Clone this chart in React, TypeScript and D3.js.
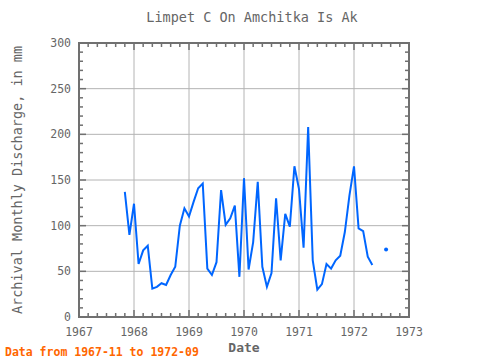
import * as d3 from "d3";
import { useEffect, useRef } from "react";

// monthly discharge, mm — starting 1967-11, null = missing
const START = [1967, 11];
const VALUES: (number | null)[] = [
  137, 90, 124, 58, 73, 78, 31, 33, 37, 35, 46, 55, // 1967-11 .. 1968-10
  100, 119, 110, 126, 141, 146, 53, 46, 60, 139, 101, 108, // 1968-11 .. 1969-10
  122, 44, 152, 52, 82, 148, 55, 33, 48, 130, 62, 113, // 1969-11 .. 1970-10
  99, 165, 140, 76, 208, 62, 30, 36, 58, 53, 62, 67, // 1970-11 .. 1971-10
  93, 133, 165, 97, 94, 66, 57, null, null, 74, null, // 1971-11 .. 1972-09
];
const X_TICKS = [1967, 1968, 1969, 1970, 1971, 1972, 1973];
const Y_TICKS = [0, 50, 100, 150, 200, 250, 300];

const W = 480;
const H = 360;
const M = { left: 79, right: 71, top: 43, bottom: 43 };
const FONT = "'DejaVu Sans Mono', monospace";
const FG = "#666666";
const FRAME = "#707070";
const GRID = "#b4b4b4";
const LINE = "#0066ff";

interface Pt {
  t: number;
  v: number | null;
}

export default function App() {
  const ref = useRef<SVGSVGElement>(null);

  useEffect(() => {
    if (!ref.current) return;
    const svg = d3.select(ref.current);
    svg.selectAll("*").remove();

    const pts: Pt[] = VALUES.map((v, i) => ({
      t: START[0] + (START[1] - 1 + i) / 12,
      v,
    }));

    const x = d3.scaleLinear().domain([1967, 1973]).range([M.left, W - M.right]);
    const y = d3.scaleLinear().domain([0, 300]).range([H - M.bottom, M.top]);
    const [x0, x1] = x.range();
    const [y0, y1] = y.range();

    // grid
    const g = svg.append("g");
    g.selectAll("line.gx")
      .data(X_TICKS.slice(1, -1))
      .join("line")
      .attr("x1", (d) => x(d))
      .attr("x2", (d) => x(d))
      .attr("y1", y0)
      .attr("y2", y1)
      .attr("stroke", GRID)
      .attr("stroke-width", 1);
    g.selectAll("line.gy")
      .data(Y_TICKS.slice(1, -1))
      .join("line")
      .attr("y1", (d) => y(d))
      .attr("y2", (d) => y(d))
      .attr("x1", x0)
      .attr("x2", x1)
      .attr("stroke", GRID)
      .attr("stroke-width", 1);

    // minor ticks (inward, all sides)
    const xMinor = d3.range(1967, 1973 + 1e-6, 1 / 6);
    const yMinor = d3.range(0, 301, 10);
    const tk = svg.append("g").attr("stroke", FRAME).attr("stroke-width", 1.5);
    xMinor.forEach((t) => {
      const len = Math.abs(t - Math.round(t)) < 1e-6 ? 7 : 4;
      tk.append("line").attr("x1", x(t)).attr("x2", x(t)).attr("y1", y0).attr("y2", y0 - len);
      tk.append("line").attr("x1", x(t)).attr("x2", x(t)).attr("y1", y1).attr("y2", y1 + len);
    });
    yMinor.forEach((v) => {
      const len = v % 50 === 0 ? 7 : 4;
      tk.append("line").attr("y1", y(v)).attr("y2", y(v)).attr("x1", x0).attr("x2", x0 + len);
      tk.append("line").attr("y1", y(v)).attr("y2", y(v)).attr("x1", x1).attr("x2", x1 - len);
    });

    // frame
    svg
      .append("rect")
      .attr("x", x0)
      .attr("y", y1)
      .attr("width", x1 - x0)
      .attr("height", y0 - y1)
      .attr("fill", "none")
      .attr("stroke", FRAME)
      .attr("stroke-width", 2);

    // data line
    const line = d3
      .line<Pt>()
      .defined((d) => d.v !== null)
      .x((d) => x(d.t))
      .y((d) => y(d.v as number));
    svg
      .append("path")
      .datum(pts)
      .attr("d", line)
      .attr("fill", "none")
      .attr("stroke", LINE)
      .attr("stroke-width", 2);

    // isolated points
    const lone = pts.filter(
      (d, i) =>
        d.v !== null &&
        (i === 0 || pts[i - 1].v === null) &&
        (i === pts.length - 1 || pts[i + 1].v === null),
    );
    svg
      .selectAll("circle")
      .data(lone)
      .join("circle")
      .attr("cx", (d) => x(d.t))
      .attr("cy", (d) => y(d.v as number))
      .attr("r", 2)
      .attr("fill", LINE);

    // tick labels
    svg
      .append("g")
      .selectAll("text")
      .data(X_TICKS)
      .join("text")
      .attr("x", (d) => x(d))
      .attr("y", y0 + 19)
      .attr("text-anchor", "middle")
      .attr("font-family", FONT)
      .attr("font-size", 11.5)
      .attr("fill", FG)
      .text((d) => String(d));
    svg
      .append("g")
      .selectAll("text")
      .data(Y_TICKS)
      .join("text")
      .attr("x", x0 - 8)
      .attr("y", (d) => y(d) + 4)
      .attr("text-anchor", "end")
      .attr("font-family", FONT)
      .attr("font-size", 11.5)
      .attr("fill", FG)
      .text((d) => String(d));

    // titles
    svg
      .append("text")
      .attr("x", (x0 + x1) / 2 + 8)
      .attr("y", 22)
      .attr("text-anchor", "middle")
      .attr("font-family", FONT)
      .attr("font-size", 13.5)
      .attr("fill", FG)
      .text("Limpet C On Amchitka Is Ak");
    svg
      .append("text")
      .attr("x", (x0 + x1) / 2)
      .attr("y", 352)
      .attr("text-anchor", "middle")
      .attr("font-family", FONT)
      .attr("font-size", 13)
      .attr("font-weight", "bold")
      .attr("fill", FG)
      .text("Date");
    svg
      .append("text")
      .attr("transform", `translate(22,${(y0 + y1) / 2}) rotate(-90)`)
      .attr("text-anchor", "middle")
      .attr("font-family", FONT)
      .attr("font-size", 13.5)
      .attr("fill", FG)
      .text("Archival Monthly Discharge, in mm");
    svg
      .append("text")
      .attr("x", 5)
      .attr("y", 356)
      .attr("font-family", FONT)
      .attr("font-size", 11.5)
      .attr("font-weight", "bold")
      .attr("fill", "#ff6600")
      .text("Data from 1967-11 to 1972-09");
  }, []);

  return (
    <svg
      ref={ref}
      width={W}
      height={H}
      style={{ position: "absolute", left: 0, top: 0, background: "#fff" }}
    />
  );
}
